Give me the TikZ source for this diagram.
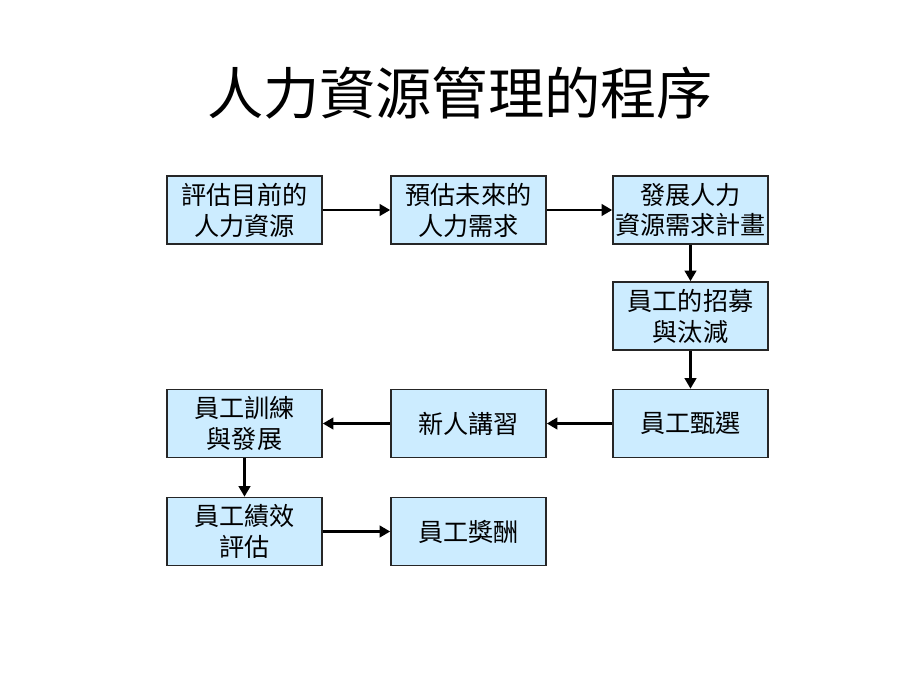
\documentclass[tikz,border=0pt]{standalone}
\usepackage{fontspec}
\setmainfont{Liberation Sans}
\newfontfamily\cjk{Noto Sans CJK TC}
\usetikzlibrary{arrows.meta}
\definecolor{boxfill}{HTML}{CCECFF}
\tikzset{
  stepbox/.style={draw=black!85, line width=0.9pt, fill=boxfill, minimum width=155*0.02cm, minimum height=68*0.02cm, inner sep=0pt, align=center, font=\cjk\fontsize{14.3}{17.6}\selectfont},
  conn/.style={line width=1.7pt, -{Triangle[length=6pt,width=6.5pt]}}
}
\begin{document}
\begin{tikzpicture}[x=0.02cm,y=-0.02cm]
\useasboundingbox (0,0) rectangle (920,690);
\node (title) at (460,93) {\cjk\fontsize{32}{36}\selectfont 人力資源管理的程序};
\node[stepbox] (b1) at (244.5,210) {評估目前的\\人力資源};
\node[stepbox] (b2) at (468.5,210) {預估未來的\\人力需求};
\node[stepbox] (b3) at (690.5,210) {發展人力\\資源需求計畫};
\node[stepbox] (b4) at (690.5,316) {員工的招募\\與汰減};
\node[stepbox] (b5) at (690.5,423.5) {員工甄選};
\node[stepbox] (b6) at (468.5,423.5) {新人講習};
\node[stepbox] (b7) at (244.5,423.5) {員工訓練\\與發展};
\node[stepbox] (b8) at (244.5,531.5) {員工績效\\評估};
\node[stepbox] (b9) at (468.5,531.5) {員工獎酬};
\draw[conn] (b1) -- (b2);
\draw[conn] (b2) -- (b3);
\draw[conn] (b3) -- (b4);
\draw[conn] (b4) -- (b5);
\draw[conn] (b5) -- (b6);
\draw[conn] (b6) -- (b7);
\draw[conn] (b7) -- (b8);
\draw[conn] (b8) -- (b9);
\end{tikzpicture}
\end{document}
